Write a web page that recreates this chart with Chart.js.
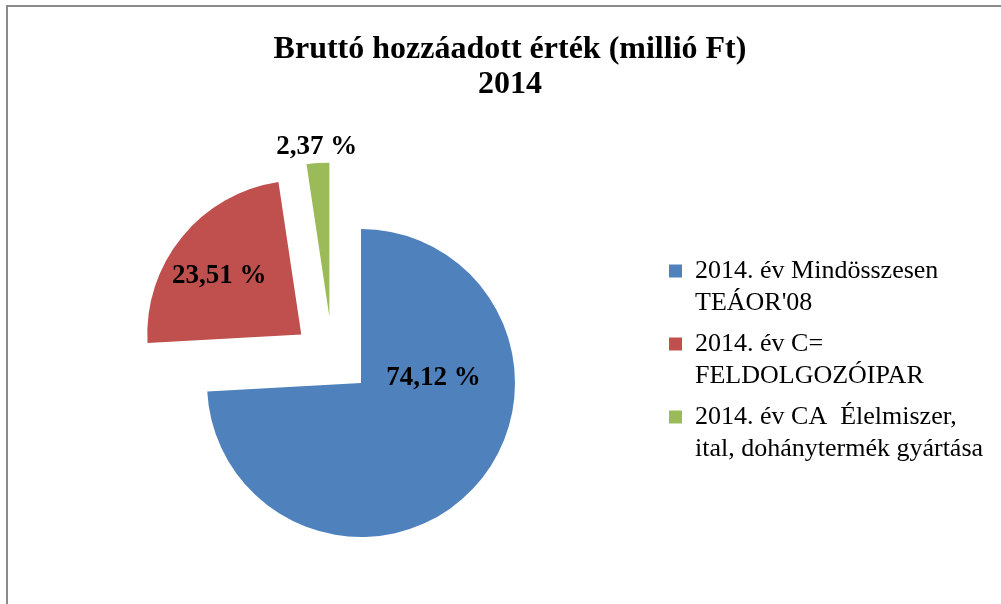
<!DOCTYPE html>
<html>
<head>
<meta charset="utf-8">
<script src="https://cdn.jsdelivr.net/npm/chart.js@4.4.0/dist/chart.umd.min.js"></script>
<style>
  body { margin: 0; background: #fff; overflow: hidden; }
  canvas { display: block; }
</style>
</head>
<body>
<canvas id="myChart" width="1001" height="604"></canvas>
<script>
// adatok
var categories = [
    "2014. év Mindösszesen\nTEÁOR'08",
    '2014. év C=\nFELDOLGOZÓIPAR',
    '2014. év CA  Élelmiszer,\nital, dohánytermék gyártása'
];
var values = [74.12, 23.51, 2.37]; // százalék
var colors = ['#4F81BD', '#C0504D', '#9BBB59'];
var titleLines = ['Bruttó hozzáadott érték (millió Ft)', '2014'];

// kiemelt szeletek: távolság px, irány fokban (null = a szelet felezője)
var explode = [
    { dist: 0, dir: null },
    { dist: 77, dir: null },
    { dist: 73.5, dir: 334.5 }
];
// címkék helye: sugár arányában, irány fokban (null = felező)
var labelPos = [
    { r: 0.472, dir: 85.7 },
    { r: 0.654, dir: 305.5 },
    { r: 1.105, dir: null }
];

function shiftOf(arc, i) {
    var e = explode[i];
    var a = e.dir === null ? (arc.startAngle + arc.endAngle) / 2 : (e.dir - 90) * Math.PI / 180;
    return { x: Math.cos(a) * e.dist, y: Math.sin(a) * e.dist };
}

class ExplodedPieController extends Chart.PieController {
    draw() {
        var ctx = this.chart.ctx;
        var area = this.chart.chartArea;
        this._cachedMeta.data.forEach(function (arc, i) {
            var s = shiftOf(arc, i);
            ctx.save();
            ctx.translate(s.x, s.y);
            arc.draw(ctx, area);
            ctx.restore();
        });
    }
}
ExplodedPieController.id = 'explodedPie';
Chart.register(ExplodedPieController);

var frame = {
    id: 'frame',
    afterLayout: function (chart) {
        // a jelmagyarázat szövege kilóghat a doboza jobb szélén
        if (chart.legend) chart.legend.right = chart.width;
    },
    beforeDraw: function (chart) {
        var ctx = chart.ctx;
        ctx.save();
        ctx.strokeStyle = '#8a8a8a';
        ctx.lineWidth = 2;
        ctx.beginPath();
        ctx.moveTo(7, 604);
        ctx.lineTo(7, 6);
        ctx.lineTo(1001, 6);
        ctx.stroke();
        ctx.restore();
    }
};

var sliceLabels = {
    id: 'sliceLabels',
    afterDatasetsDraw: function (chart) {
        var ctx = chart.ctx;
        var meta = chart.getDatasetMeta(0);
        ctx.save();
        ctx.font = 'bold 27px "Liberation Serif"';
        ctx.fillStyle = '#000';
        ctx.textAlign = 'center';
        ctx.textBaseline = 'middle';
        meta.data.forEach(function (arc, i) {
            var s = shiftOf(arc, i);
            var p = labelPos[i];
            var a = p.dir === null ? (arc.startAngle + arc.endAngle) / 2 : (p.dir - 90) * Math.PI / 180;
            var x = arc.x + s.x + Math.cos(a) * p.r * arc.outerRadius;
            var y = arc.y + s.y + Math.sin(a) * p.r * arc.outerRadius;
            ctx.fillText(values[i].toFixed(2).replace('.', ',') + ' %', x, y);
        });
        ctx.restore();
    }
};

var ctx = document.getElementById('myChart').getContext('2d');
var chart = new Chart(ctx, {
    type: 'explodedPie',
    data: {
        labels: categories,
        datasets: [{
            data: values,
            backgroundColor: colors,
            borderWidth: 0
        }]
    },
    options: {
        responsive: false,
        animation: false,
        radius: 154,
        layout: { padding: { left: 62, right: 43, top: 0, bottom: 0 } },
        plugins: {
            title: {
                display: true,
                text: titleLines,
                color: '#000',
                font: { family: 'Liberation Serif', size: 32, weight: 'bold', lineHeight: 35 / 32 },
                padding: { top: 32, bottom: 60 }
            },
            legend: {
                position: 'right',
                align: 'start',
                fullSize: false,
                maxWidth: 298,
                title: { display: true, text: ' ', font: { size: 10, lineHeight: 1 }, padding: { top: 77, bottom: 0 } },
                labels: {
                    boxWidth: 13,
                    boxHeight: 13,
                    padding: 9,
                    color: '#000',
                    font: { family: 'Liberation Serif', size: 26, lineHeight: 32 / 26 },
                    generateLabels: function (chart) {
                        return chart.data.labels.map(function (label, i) {
                            return {
                                text: label.split('\n'),
                                fillStyle: colors[i],
                                strokeStyle: colors[i],
                                lineWidth: 0,
                                hidden: false,
                                index: i,
                                fontColor: '#000'
                            };
                        });
                    }
                }
            },
            tooltip: { enabled: false }
        }
    },
    plugins: [frame, sliceLabels]
});
</script>
</body>
</html>
